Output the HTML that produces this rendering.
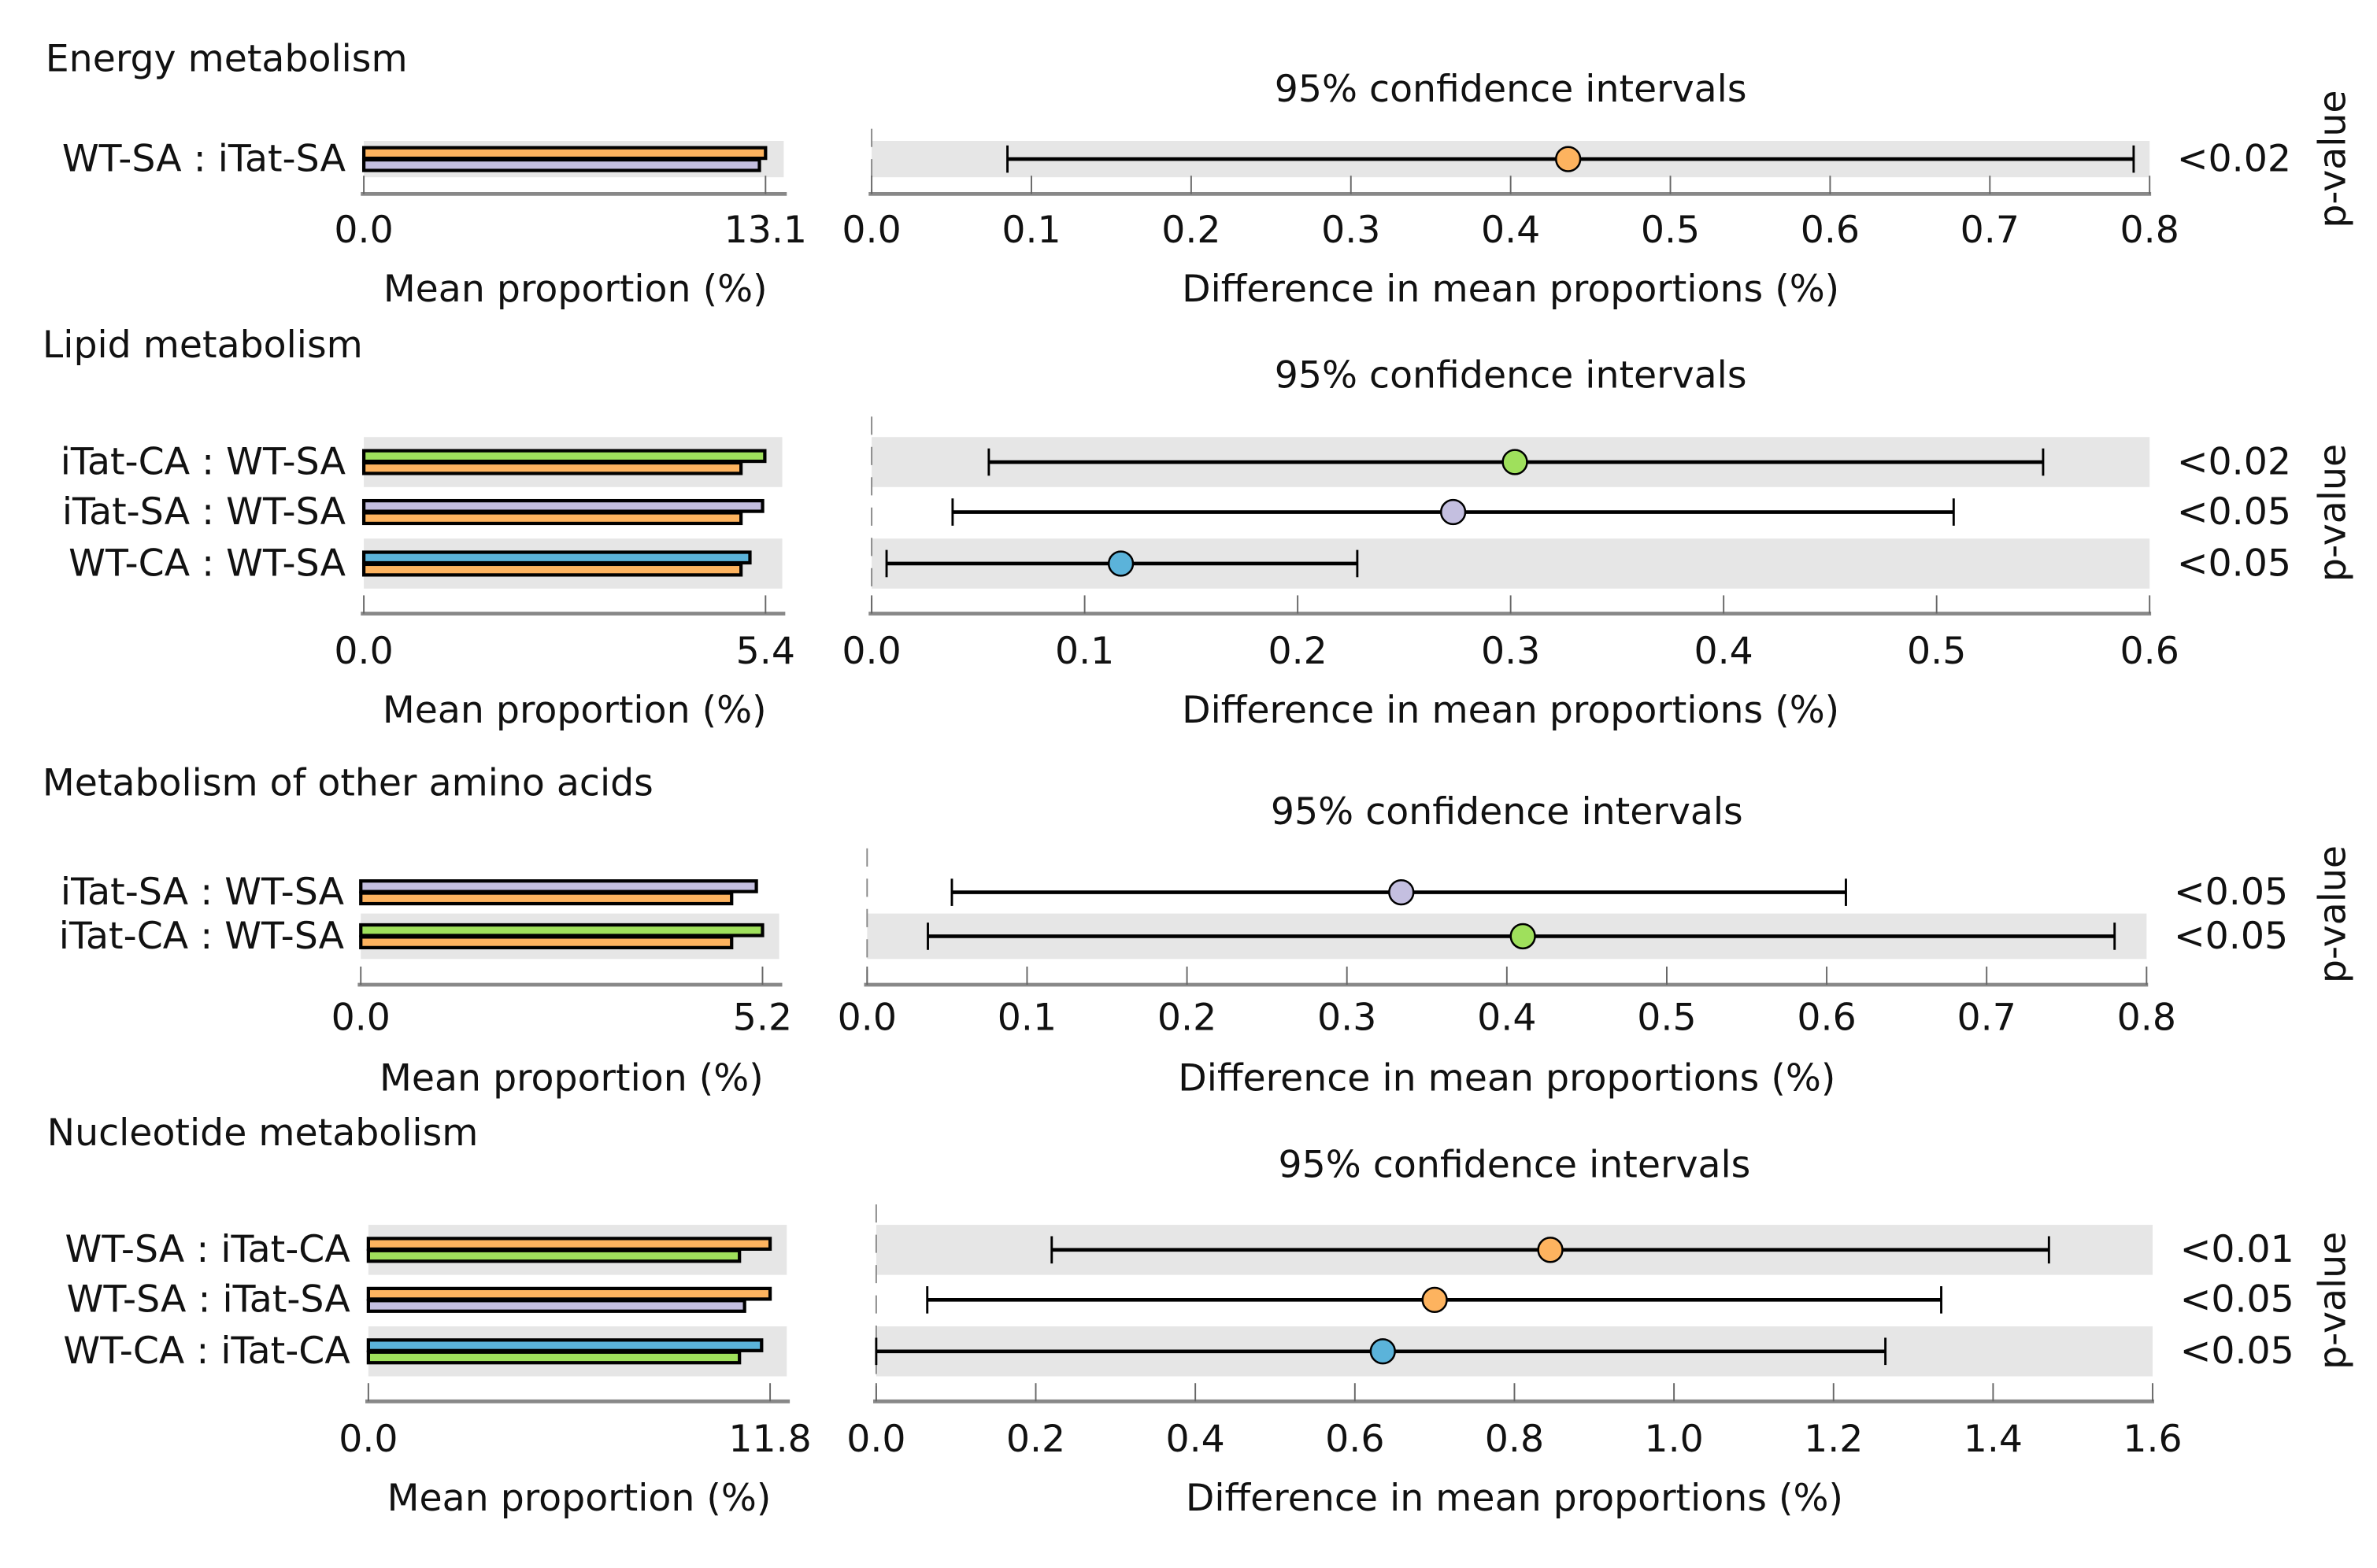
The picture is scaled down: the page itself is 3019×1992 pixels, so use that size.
<!DOCTYPE html>
<html><head><meta charset="utf-8"><style>
html,body{margin:0;padding:0;background:#fff}
svg{display:block}
text{font-family:"DejaVu Sans","Liberation Sans",sans-serif;fill:#111}
</style></head><body>
<svg id="fig" xmlns="http://www.w3.org/2000/svg" width="3019" height="1992" viewBox="0 0 1568 1035" preserveAspectRatio="none"></svg>
<script>
// ---- data ----
const titles = ["Energy metabolism","Lipid metabolism","Metabolism of other amino acids","Nucleotide metabolism"];
const rowLabels1 = ["WT-SA : iTat-SA"];
const rowLabels2 = ["iTat-CA : WT-SA","iTat-SA : WT-SA","WT-CA : WT-SA"];
const rowLabels3 = ["iTat-SA : WT-SA","iTat-CA : WT-SA"];
const rowLabels4 = ["WT-SA : iTat-CA","WT-SA : iTat-SA","WT-CA : iTat-CA"];
const barA1 = [13.1], barB1 = [12.9];
const barA2 = [5.39,5.36,5.19], barB2 = [5.07,5.07,5.07];
const barA3 = [5.12,5.2], barB3 = [4.8,4.8];
const barA4 = [11.8,11.8,11.55], barB4 = [10.9,11.05,10.9];
const colA1 = ["orange"], colB1 = ["purple"];
const colA2 = ["green","purple","blue"], colB2 = ["orange","orange","orange"];
const colA3 = ["purple","green"], colB3 = ["orange","orange"];
const colA4 = ["orange","orange","blue"], colB4 = ["green","purple","green"];
const barMax = [13.1,5.4,5.2,11.8];
const ciLow1 = [0.085], ciMean1 = [0.436], ciHigh1 = [0.79];
const ciLow2 = [0.055,0.038,0.007], ciMean2 = [0.302,0.273,0.117], ciHigh2 = [0.55,0.508,0.228];
const ciLow3 = [0.053,0.038], ciMean3 = [0.334,0.41], ciHigh3 = [0.612,0.78];
const ciLow4 = [0.22,0.064,0.0], ciMean4 = [0.845,0.70,0.635], ciHigh4 = [1.47,1.335,1.265];
const pvals1 = ["<0.02"];
const pvals2 = ["<0.02","<0.05","<0.05"];
const pvals3 = ["<0.05","<0.05"];
const pvals4 = ["<0.01","<0.05","<0.05"];
const ciTicks1 = ["0.0","0.1","0.2","0.3","0.4","0.5","0.6","0.7","0.8"];
const ciTicks2 = ["0.0","0.1","0.2","0.3","0.4","0.5","0.6"];
const ciTicks3 = ["0.0","0.1","0.2","0.3","0.4","0.5","0.6","0.7","0.8"];
const ciTicks4 = ["0.0","0.2","0.4","0.6","0.8","1.0","1.2","1.4","1.6"];
const bandShade1 = [true];
const bandShade2 = [true,false,true];
const bandShade3 = [false,true];
const bandShade4 = [true,false,true];

const COL = {orange:"#fdb35f",purple:"#c4bfe0",green:"#9fe05c",blue:"#5bb3da"};
const FS = 24.6;
const NS="http://www.w3.org/2000/svg";
const svg=document.getElementById('fig');
function el(tag,attrs,parent){const e=document.createElementNS(NS,tag);for(const k in attrs)e.setAttribute(k,attrs[k]);(parent||svg).appendChild(e);return e;}
function txt(s,x,y,size,anchor,parent){const t=el('text',{x:x,y:y,'font-size':size,'text-anchor':anchor||'start'},parent);t.textContent=s;return t;}

const layouts=[
 {titleX:30,titleY:47,ciTitleY:67,rows:[105],rowH:24,axisY:128,bx0:240,bx1:505,bxEnd:519,cx0:575,cx1:1418,tickY:160,labY:199,labX:228,spineTop:85},
 {titleX:28,titleY:236,ciTitleY:256,rows:[305,338,372],rowH:33,axisY:405,bx0:240,bx1:505,bxEnd:518,cx0:575,cx1:1418,tickY:438,labY:477,labX:228,spineTop:275},
 {titleX:28,titleY:525,ciTitleY:544,rows:[589,618],rowH:30,axisY:650,bx0:238,bx1:503,bxEnd:516,cx0:572,cx1:1416,tickY:680,labY:720,labX:227,spineTop:560},
 {titleX:31,titleY:756,ciTitleY:777,rows:[825,858,892],rowH:33,axisY:925,bx0:243,bx1:508,bxEnd:521,cx0:578,cx1:1420,tickY:958,labY:997,labX:231,spineTop:795}
];
const rowLabelsAll=[rowLabels1,rowLabels2,rowLabels3,rowLabels4];
const barAAll=[barA1,barA2,barA3,barA4], barBAll=[barB1,barB2,barB3,barB4];
const colAAll=[colA1,colA2,colA3,colA4], colBAll=[colB1,colB2,colB3,colB4];
const lowAll=[ciLow1,ciLow2,ciLow3,ciLow4], meanAll=[ciMean1,ciMean2,ciMean3,ciMean4], highAll=[ciHigh1,ciHigh2,ciHigh3,ciHigh4];
const pAll=[pvals1,pvals2,pvals3,pvals4], tickAll=[ciTicks1,ciTicks2,ciTicks3,ciTicks4], shadeAll=[bandShade1,bandShade2,bandShade3,bandShade4];

layouts.forEach((L,pi)=>{
  const g=el('g',{});
  
  
  const tt=txt(titles[pi],L.titleX,L.titleY,FS,'start',g);
  
  
  const ticks=tickAll[pi];
  const ciMax=parseFloat(ticks[ticks.length-1]);
  const xb=v=>L.bx0+(L.bx1-L.bx0)*v/barMax[pi];
  const xc=v=>L.cx0+(L.cx1-L.cx0)*v/ciMax;
  const ct=txt('95% confidence intervals',(L.cx0+L.cx1)/2,L.ciTitleY,FS,'middle',g);
  
  
  rowLabelsAll[pi].forEach((lab,i)=>{
    const cy=L.rows[i];
    if(shadeAll[pi][i]){
      const b1=el('rect',{x:L.bx0,y:cy-L.rowH/2,width:L.bxEnd-L.bx0-2,height:L.rowH,fill:'#e6e6e6'},g);
      
      
      const b2=el('rect',{x:L.cx0,y:cy-L.rowH/2,width:L.cx1-L.cx0,height:L.rowH,fill:'#e6e6e6'},g);
      
      
    }
  });
  const sp=el('line',{x1:L.cx0,y1:L.spineTop,x2:L.cx0,y2:L.axisY,stroke:'#888','stroke-width':1,'stroke-dasharray':'12,8'},g);
  
  
  const ax1=el('line',{x1:L.bx0-2,y1:L.axisY,x2:L.bxEnd,y2:L.axisY,stroke:'#888','stroke-width':2.5},g);
  
  
  [[0,'0.0'],[barMax[pi],barMax[pi].toFixed(1)]].forEach(([v,s])=>{
    const tk=el('line',{x1:xb(v),y1:L.axisY-12,x2:xb(v),y2:L.axisY,stroke:'#666','stroke-width':1},g);
    
    
    const tl=txt(s,xb(v),L.tickY,FS,'middle',g);
    
    
  });
  const ml=txt('Mean proportion (%)',(L.bx0+L.bxEnd)/2,L.labY,FS,'middle',g);
  
  
  const ax2=el('line',{x1:L.cx0-2,y1:L.axisY,x2:L.cx1+1,y2:L.axisY,stroke:'#888','stroke-width':2.5},g);
  
  
  ticks.forEach(s=>{
    const v=parseFloat(s);
    const tk=el('line',{x1:xc(v),y1:L.axisY-12,x2:xc(v),y2:L.axisY,stroke:'#666','stroke-width':1},g);
    
    
    const tl=txt(s,xc(v),L.tickY,FS,'middle',g);
    
    
  });
  const dl=txt('Difference in mean proportions (%)',(L.cx0+L.cx1)/2,L.labY,FS,'middle',g);
  
  
  rowLabelsAll[pi].forEach((lab,i)=>{
    const cy=L.rows[i];
    const rl=txt(lab,L.labX,cy+8,FS,'end',g);
    
    
    const ra=el('rect',{x:L.bx0,y:cy-7.5,width:xb(barAAll[pi][i])-L.bx0,height:7,fill:COL[colAAll[pi][i]],stroke:'#000','stroke-width':2.2},g);
    
    
    const rb=el('rect',{x:L.bx0,y:cy+0.5,width:xb(barBAll[pi][i])-L.bx0,height:7,fill:COL[colBAll[pi][i]],stroke:'#000','stroke-width':2.2},g);
    
    
    const lo=xc(lowAll[pi][i]), hi=xc(highAll[pi][i]), m=xc(meanAll[pi][i]);
    const ln=el('line',{x1:lo,y1:cy,x2:hi,y2:cy,stroke:'#000','stroke-width':2.4},g);
    
    
    [lo,hi].forEach(x=>{
      const c=el('line',{x1:x,y1:cy-9,x2:x,y2:cy+9,stroke:'#000','stroke-width':1.5},g);
      
      
    });
    const pt=el('circle',{cx:m,cy:cy,r:8,fill:COL[colAAll[pi][i]],stroke:'#000','stroke-width':1.3},g);
    
    
    const pv=txt(pAll[pi][i],L.cx1+18,cy+8,FS,'start',g);
    
    
  });
  const midY=(L.rows[0]+L.rows[L.rows.length-1])/2;
  const pt=txt('p-value',0,0,FS,'middle',g);
  pt.setAttribute('transform','translate(1547,'+midY+') rotate(-90)');
  
  
});
</script>
</body></html>
